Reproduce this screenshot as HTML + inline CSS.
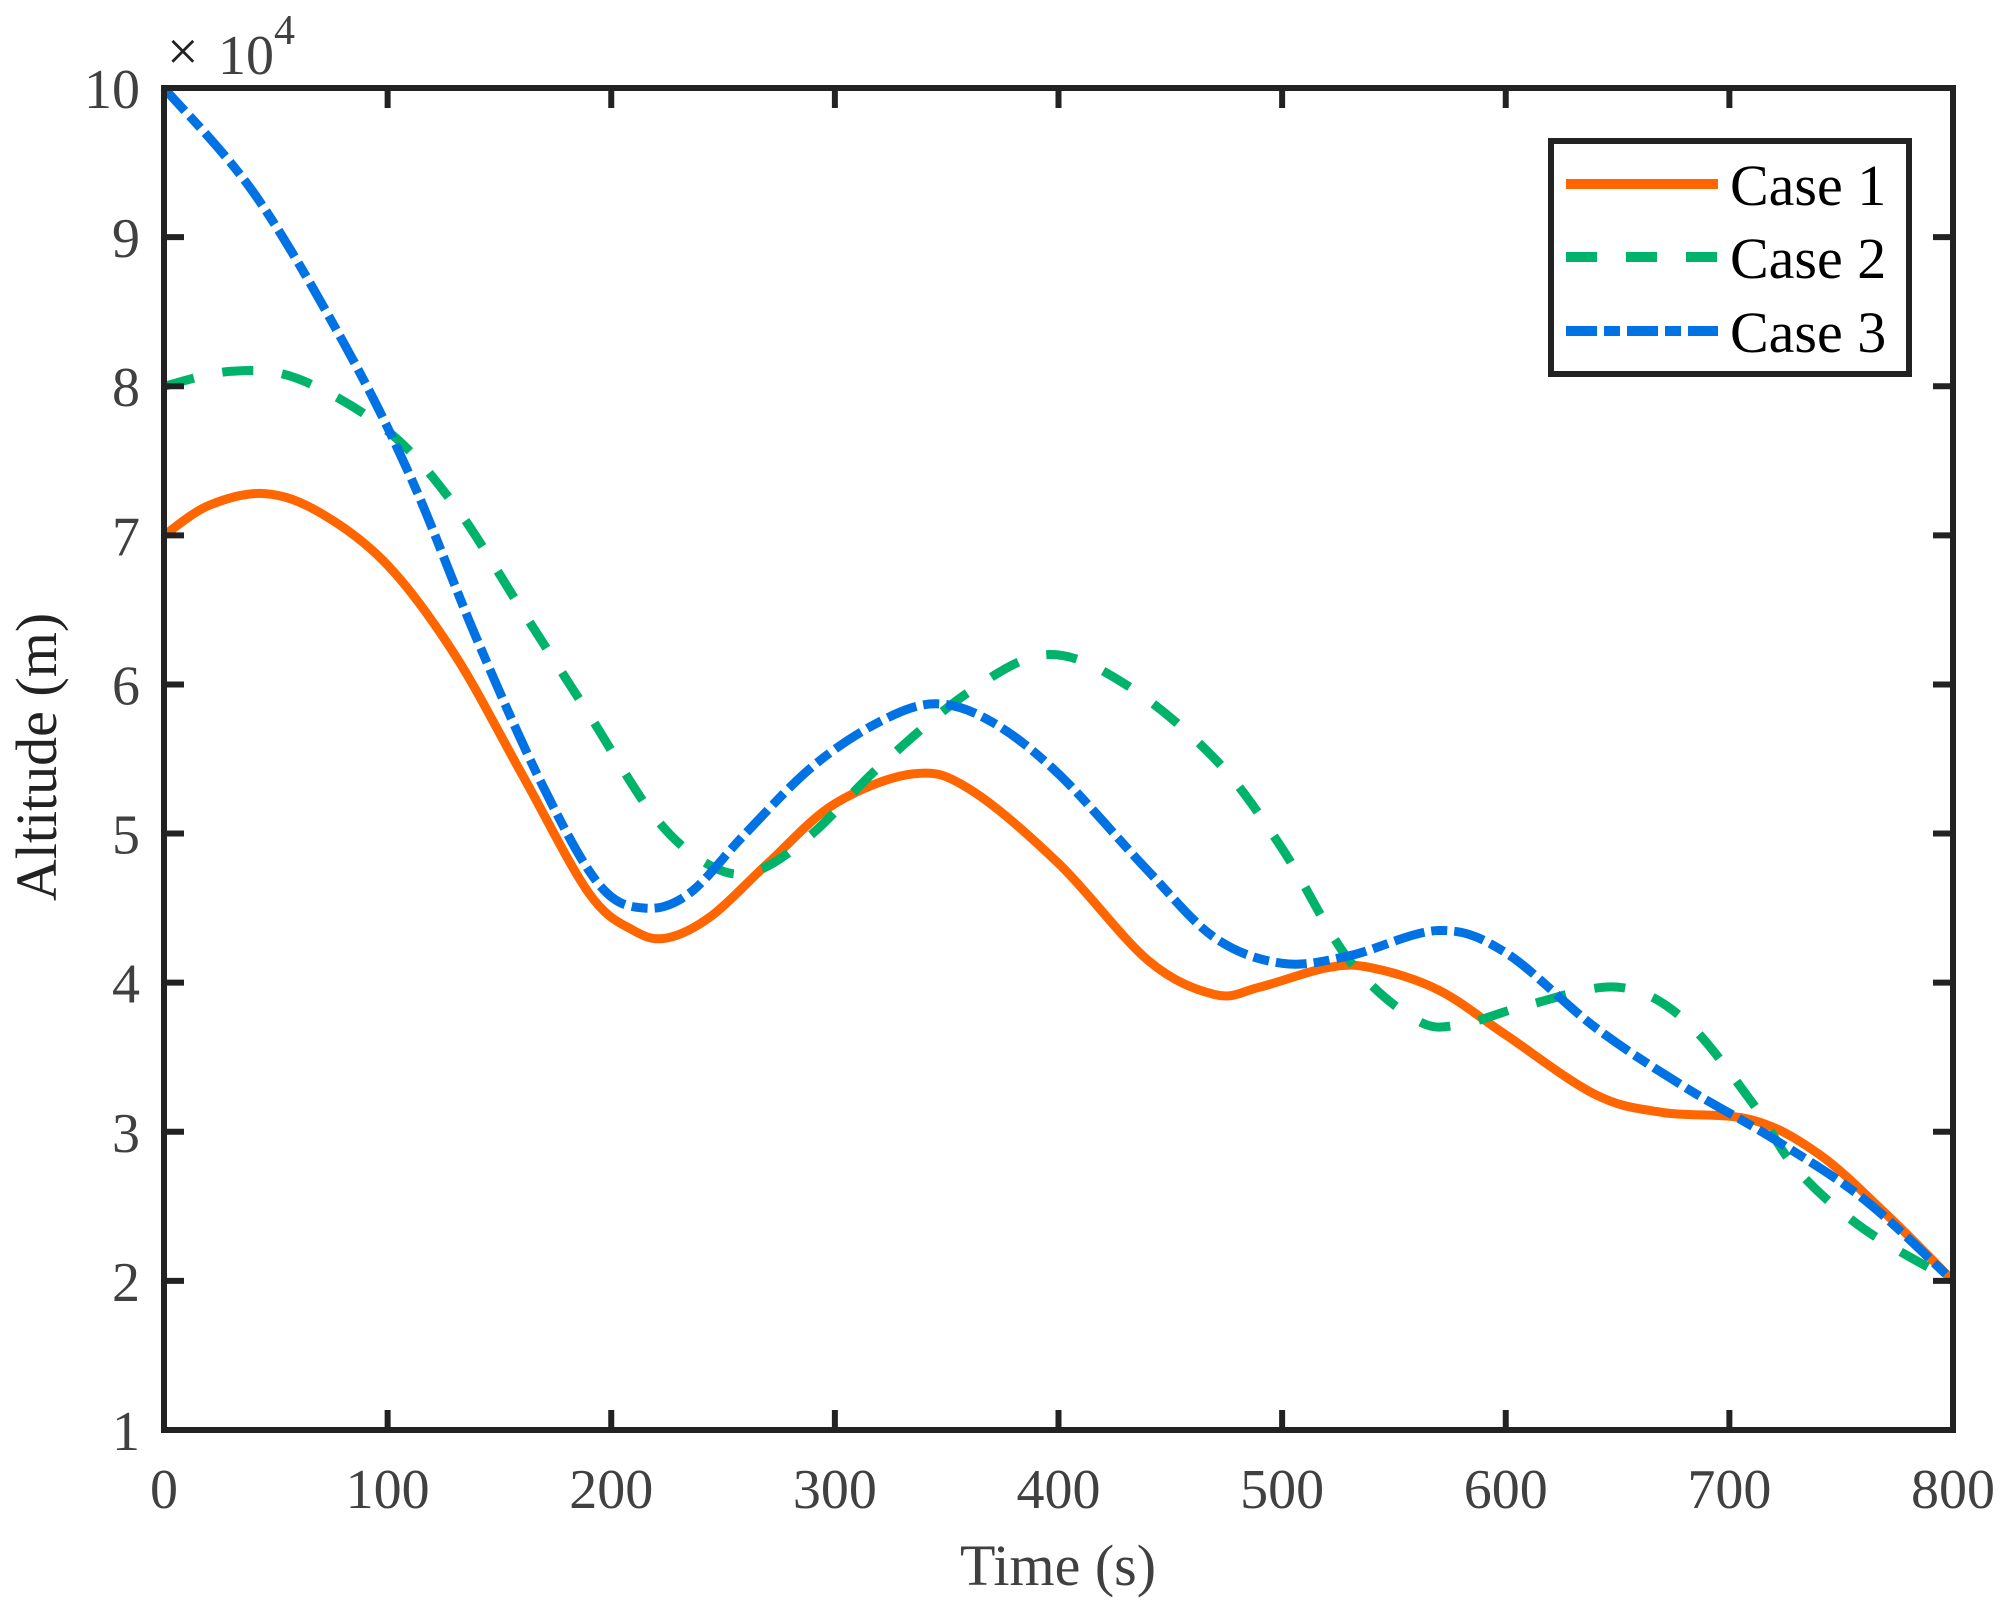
<!DOCTYPE html>
<html><head><meta charset="utf-8"><style>
html,body{margin:0;padding:0;background:#fff;}
svg{display:block;}
text{font-family:"Liberation Serif",serif;}
</style></head><body>
<svg id="s" width="2011" height="1601" xmlns="http://www.w3.org/2000/svg">
<rect width="2011" height="1601" fill="#fff"/>
<g id="curves" fill="none" stroke-width="9" stroke-linejoin="round">
<path id="c1" stroke="#FF6600"/>
<path id="c2" stroke="#00B36B" stroke-dasharray="31 29"/>
<path id="c3" stroke="#0072E3" stroke-dasharray="31 7 16 7"/>
</g>
<g id="ticks" stroke="#222" stroke-width="6"></g>
<rect x="164" y="88" width="1789" height="1342" fill="none" stroke="#222" stroke-width="6"/>
<g id="labels" font-size="56" fill="#404040"></g>
<text x="167" y="70" font-size="56" fill="#222">×</text>
<text x="218" y="74" font-size="56" fill="#404040">10</text>
<text x="274" y="44" font-size="42" fill="#404040">4</text>
<text x="1058" y="1585" font-size="58" fill="#404040" text-anchor="middle">Time (s)</text>
<text transform="translate(56,757) rotate(-90)" font-size="58" fill="#222" text-anchor="middle">Altitude (m)</text>
<rect x="1551" y="141" width="1358" height="0" fill="none"/>
<rect x="1551" y="141" width="358" height="233" fill="#fff" stroke="#222" stroke-width="6"/>
<line x1="1566" y1="184" x2="1718" y2="184" stroke="#FF6600" stroke-width="10"/>
<line x1="1566" y1="257" x2="1718" y2="257" stroke="#00B36B" stroke-width="10" stroke-dasharray="31 29"/>
<line x1="1566" y1="331" x2="1718" y2="331" stroke="#0072E3" stroke-width="10" stroke-dasharray="31 7 16 7"/>
<text x="1730" y="205" font-size="58" fill="#000">Case 1</text>
<text x="1730" y="278" font-size="58" fill="#000">Case 2</text>
<text x="1730" y="352" font-size="58" fill="#000">Case 3</text>
</svg>
<script>
var L=164,R=1953,T=88,B=1430;
function X(t){return L+(R-L)*t/800;}
function Y(v){return B-(B-T)*(v-1)/9;}
function path(d){
 var p=d.map(function(a){return [X(a[0]),Y(a[1])];});
 var s="M"+p[0][0].toFixed(1)+","+p[0][1].toFixed(1);
 for(var i=0;i<p.length-1;i++){
  var p0=p[i-1]||p[i],p1=p[i],p2=p[i+1],p3=p[i+2]||p[i+1];
  var c1=[p1[0]+(p2[0]-p0[0])/6,p1[1]+(p2[1]-p0[1])/6];
  var c2=[p2[0]-(p3[0]-p1[0])/6,p2[1]-(p3[1]-p1[1])/6];
  s+="C"+c1[0].toFixed(1)+","+c1[1].toFixed(1)+" "+c2[0].toFixed(1)+","+c2[1].toFixed(1)+" "+p2[0].toFixed(1)+","+p2[1].toFixed(1);
 }
 return s;
}
var d1=[[0,7.0],[20,7.2],[45,7.28],[70,7.15],[100,6.8],[130,6.2],[160,5.4],[190,4.6],[210,4.35],[225,4.3],[245,4.45],[270,4.8],[300,5.2],[335,5.4],[360,5.3],[400,4.8],[440,4.15],[470,3.92],[490,3.97],[520,4.1],[540,4.1],[570,3.95],[600,3.65],[640,3.25],[670,3.13],[710,3.08],[740,2.85],[770,2.45],[800,2.0]];
var d2=[[0,8.0],[30,8.1],[60,8.05],[100,7.7],[130,7.2],[160,6.5],[190,5.8],[220,5.1],[245,4.78],[265,4.75],[290,5.0],[320,5.45],[360,5.95],[395,6.2],[430,6.0],[470,5.5],[500,4.9],[530,4.15],[560,3.75],[580,3.72],[610,3.85],[650,3.97],[680,3.75],[710,3.2],[730,2.75],[760,2.35],[800,2.0]];
var d3=[[0,10.0],[40,9.3],[80,8.3],[110,7.4],[140,6.3],[170,5.3],[195,4.65],[215,4.5],[235,4.6],[260,5.0],[290,5.45],[320,5.75],[345,5.87],[370,5.75],[400,5.4],[440,4.75],[470,4.3],[500,4.13],[530,4.18],[570,4.35],[600,4.2],[640,3.7],[680,3.3],[720,2.95],[760,2.55],[800,2.0]];
document.getElementById("c1").setAttribute("d",path(d1));
document.getElementById("c2").setAttribute("d",path(d2));
document.getElementById("c3").setAttribute("d",path(d3));
var NS="http://www.w3.org/2000/svg",tk=document.getElementById("ticks"),lb=document.getElementById("labels");
function ln(a,b,c,d){var e=document.createElementNS(NS,"line");e.setAttribute("x1",a);e.setAttribute("y1",b);e.setAttribute("x2",c);e.setAttribute("y2",d);tk.appendChild(e);}
function tx(x,y,s,anc){var e=document.createElementNS(NS,"text");e.setAttribute("x",x);e.setAttribute("y",y);e.setAttribute("text-anchor",anc);e.textContent=s;lb.appendChild(e);}
for(var t=0;t<=800;t+=100){var x=X(t);ln(x,B,x,B-20);ln(x,T,x,T+20);tx(x,1508,String(t),"middle");}
for(var v=1;v<=10;v++){var y=Y(v);ln(L,y,L+20,y);ln(R,y,R-20,y);tx(140,y+20,String(v),"end");}
</script>
</body></html>
